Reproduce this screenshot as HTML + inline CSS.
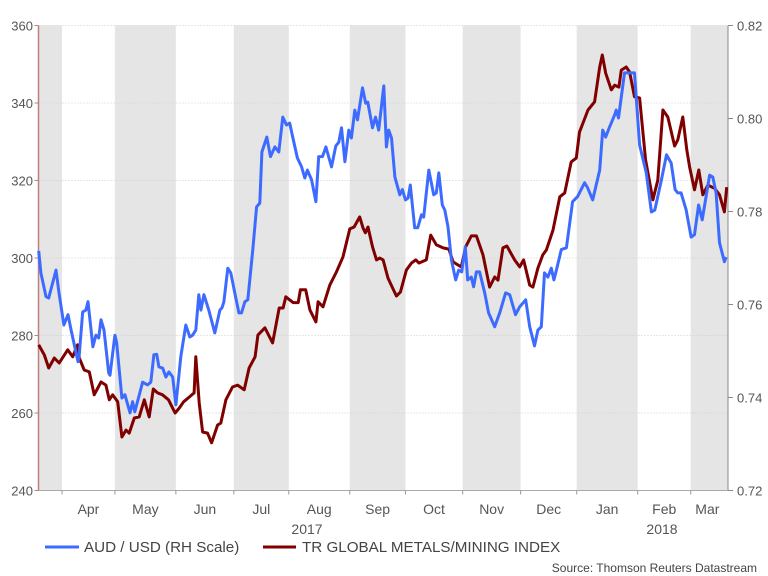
<!DOCTYPE html>
<html><head><meta charset="utf-8"><style>
body{margin:0;background:#fff;}
svg{display:block;font-family:"Liberation Sans",sans-serif;}
</style></head><body>
<svg id="chart" width="768" height="576" viewBox="0 0 768 576" xmlns="http://www.w3.org/2000/svg"></svg>
<script>
// ---- data ----
const monthStartDays = [12.5, 40.6, 73.0, 103.8, 133.0, 165.4, 195.0, 225.4, 256.2, 286.0, 318.4, 346.6];
const monthLabels = ["Apr","May","Jun","Jul","Aug","Sep","Oct","Nov","Dec","Jan","Feb","Mar"];
const leftTicks = [240,260,280,300,320,340,360];
const rightTicks = [0.72,0.74,0.76,0.78,0.80,0.82];
const audDays = [0.1,1.3,4.0,5.4,9.3,10.9,13.5,15.7,17.3,21.0,21.5,23.5,25.2,26.3,28.9,30.5,32.0,33.2,34.8,37.3,38.0,40.6,41.5,44.3,45.9,48.6,50.0,51.2,55.3,58.0,59.7,61.3,62.8,64.0,66.0,67.7,69.3,71.3,73.0,75.6,78.3,80.4,81.9,83.6,85.2,86.3,87.9,90.5,93.7,96.4,97.5,98.5,100.6,102.2,104.3,106.5,107.9,109.7,111.2,113.9,115.9,117.6,118.7,121.3,123.3,125.6,127.7,129.8,131.8,133.5,135.1,137.6,139.8,141.5,142.9,145.1,147.4,148.9,150.9,152.7,155.7,158.0,159.6,161.0,162.8,164.9,166.3,168.1,169.5,172.2,173.9,175.0,177.5,179.1,180.8,183.5,184.9,186.1,187.6,189.4,192.0,193.4,195.0,196.4,197.6,199.9,201.5,203.5,204.7,207.4,210.0,211.4,212.7,214.6,215.9,217.6,219.4,221.7,223.3,224.9,226.8,228.1,230.0,231.2,232.7,234.4,237.1,239.2,242.4,245.1,248.2,250.4,253.5,255.7,258.9,261.0,263.6,265.4,267.2,268.9,270.7,272.5,273.9,275.2,277.8,280.5,283.8,286.5,290.2,291.8,294.5,298.2,299.8,301.4,303.5,306.2,307.0,308.2,311.4,316.7,319.4,323.0,325.7,327.5,331.0,333.7,336.2,338.3,339.7,341.5,344.2,346.8,348.6,350.8,352.7,356.6,358.3,360.1,361.9,364.5,365.4];
const audValues = [0.7715,0.7668,0.7617,0.7614,0.7674,0.7625,0.7556,0.7578,0.7545,0.7477,0.7485,0.7584,0.7588,0.7606,0.7509,0.7534,0.7528,0.7567,0.7545,0.7453,0.7448,0.7534,0.7519,0.7399,0.7406,0.7367,0.7391,0.7369,0.7433,0.7427,0.7433,0.7492,0.7493,0.7466,0.7463,0.7444,0.7455,0.7444,0.7384,0.7488,0.7556,0.7530,0.7534,0.7545,0.7621,0.7588,0.7621,0.7588,0.7539,0.7588,0.7593,0.7606,0.7678,0.7668,0.7625,0.7582,0.7582,0.7606,0.7610,0.7718,0.7810,0.7818,0.7928,0.7960,0.7918,0.7939,0.7928,0.8003,0.7986,0.7990,0.7960,0.7915,0.7896,0.7872,0.7889,0.7868,0.7821,0.7918,0.7918,0.7939,0.7896,0.7941,0.7949,0.7980,0.7907,0.7975,0.7958,0.8018,0.7997,0.8066,0.8033,0.8035,0.7980,0.8003,0.7975,0.8070,0.7939,0.7975,0.7958,0.7874,0.7836,0.7847,0.7825,0.7829,0.7857,0.7765,0.7765,0.7793,0.7788,0.7889,0.7836,0.7840,0.7883,0.7814,0.7803,0.7767,0.7696,0.7653,0.7674,0.7670,0.7724,0.7653,0.7659,0.7638,0.7670,0.7670,0.7625,0.7582,0.7552,0.7582,0.7625,0.7621,0.7578,0.7595,0.7610,0.7552,0.7511,0.7545,0.7552,0.7668,0.7659,0.7678,0.7653,0.7674,0.7718,0.7722,0.7821,0.7832,0.7862,0.7851,0.7825,0.7889,0.7975,0.7960,0.7982,0.8008,0.8018,0.8001,0.8098,0.8098,0.7943,0.7883,0.7799,0.7803,0.7868,0.7922,0.7904,0.7847,0.7840,0.7840,0.7803,0.7745,0.7750,0.7814,0.7782,0.7878,0.7874,0.7840,0.7733,0.7692,0.7702];
const metalDays = [0.1,3.1,5.4,8.4,11.0,15.5,18.2,20.8,21.7,24.3,27.0,29.6,33.2,35.8,37.6,39.4,42.1,44.3,46.5,48.2,50.9,53.5,56.2,58.8,61.0,63.3,65.9,69.1,72.6,74.8,77.1,80.1,82.7,83.6,85.4,87.2,89.8,92.0,95.2,96.9,99.6,103.1,105.8,109.3,111.9,115.1,116.6,120.3,124.4,127.9,130.0,131.4,135.3,138.0,139.2,142.0,144.2,147.4,148.6,151.2,154.8,158.3,161.8,165.4,167.7,170.7,172.5,173.7,175.1,177.5,179.6,181.3,183.1,185.7,188.1,190.2,192.3,195.5,198.2,200.5,202.2,206.1,208.4,211.4,215.0,218.1,220.3,222.9,224.7,227.0,230.0,232.7,236.2,239.7,242.4,244.2,246.8,248.9,253.0,255.7,257.8,261.0,262.7,265.4,268.0,269.9,273.4,277.0,279.6,283.1,285.8,287.5,292.0,295.5,298.2,299.6,301.4,304.4,306.2,308.4,309.7,312.3,314.1,316.7,319.4,322.6,326.5,329.1,331.8,334.4,338.0,339.7,342.4,344.5,346.0,348.6,350.9,353.0,355.7,359.2,361.9,364.5,365.7];
const metalValues = [277.6,275.0,271.6,274.2,272.9,276.3,274.5,277.6,274.2,271.1,270.6,264.7,268.0,267.2,263.4,264.7,262.9,253.8,255.6,254.8,258.7,259.0,263.4,259.0,266.2,265.2,264.7,263.4,260.0,261.3,262.9,264.1,265.2,274.5,262.6,255.1,254.8,252.3,256.9,257.4,263.4,266.7,267.2,266.0,271.6,274.5,280.1,282.0,278.1,287.1,287.1,290.0,288.5,288.5,291.8,291.8,286.6,283.5,288.7,287.4,293.0,296.4,300.3,307.5,308.0,310.6,307.7,306.5,308.0,302.9,299.5,300.0,299.5,294.8,292.3,290.2,291.2,296.9,298.7,299.5,298.7,299.5,305.9,303.4,302.6,302.3,299.0,298.2,297.7,302.9,305.7,305.7,300.8,292.5,295.1,294.3,302.6,303.1,299.5,297.7,299.5,293.0,292.5,297.4,300.8,302.1,307.2,315.8,316.8,324.8,325.8,332.5,338.2,340.3,349.3,352.4,347.7,343.4,344.6,344.1,348.5,349.3,348.0,341.6,341.3,325.3,315.0,320.1,338.2,336.4,328.9,330.5,336.4,327.9,323.5,317.6,322.7,316.3,318.8,318.0,316.3,311.9,318.3];

// ---- layout ----
const X0=38.5, X1=728, Y0=25.5, Y1=490.5, DAYMAX=366.4;
const xs = d => X0 + d*(X1-X0)/DAYMAX;
const yL = v => Y1 - (v-240)/(360-240)*(Y1-Y0);
const yR = v => Y1 - (v-0.72)/(0.82-0.72)*(Y1-Y0);
const NS="http://www.w3.org/2000/svg";
const svg=document.getElementById('chart');
function mk(tag, attrs, parent){const e=document.createElementNS(NS,tag);for(const k in attrs)e.setAttribute(k,attrs[k]);(parent||svg).appendChild(e);return e;}

const bands=[0].concat(monthStartDays).concat([DAYMAX]);
for(let i=0;i<bands.length-1;i++){
  if(i%2===0){
    const r=mk('rect',{x:xs(bands[i]),y:Y0,width:xs(bands[i+1])-xs(bands[i]),height:Y1-Y0,fill:'#e5e5e5'});
    
    
  }
}
leftTicks.forEach(t=>{
  const g=mk('line',{x1:X0,x2:X1,y1:yL(t),y2:yL(t),stroke:'#cfcfcf','stroke-width':1,'stroke-dasharray':'1,2'});
  
  
});
const la=mk('line',{x1:X0,x2:X0,y1:Y0,y2:Y1,stroke:'#c07f7f','stroke-width':1.5});


const ra=mk('line',{x1:X1,x2:X1,y1:Y0,y2:Y1,stroke:'#888','stroke-width':1});


const ba=mk('line',{x1:X0,x2:X1,y1:Y1,y2:Y1,stroke:'#aaa','stroke-width':1});


leftTicks.forEach(t=>{
  mk('line',{x1:X0-4,x2:X0,y1:yL(t),y2:yL(t),stroke:'#c07f7f','stroke-width':1});
  const tx=mk('text',{x:33,y:yL(t)+5,'text-anchor':'end','font-size':13,fill:'#555'});
  tx.textContent=t;
  
  
});
rightTicks.forEach(t=>{
  mk('line',{x1:X1,x2:X1+5,y1:yR(t),y2:yR(t),stroke:'#888','stroke-width':1});
  const tx=mk('text',{x:737,y:yR(t)+5,'font-size':13,fill:'#555'});
  tx.textContent=t.toFixed(2);
  
  
});
monthStartDays.forEach((d,i)=>{
  mk('line',{x1:xs(d),x2:xs(d),y1:Y1,y2:Y1+4,stroke:'#999','stroke-width':1});
  const end=i+1<monthStartDays.length?monthStartDays[i+1]:DAYMAX;
  const tx=mk('text',{x:(xs(d)+xs(end))/2+(i===11?-2:0),y:514,'text-anchor':'middle','font-size':14,fill:'#555'});
  tx.textContent=monthLabels[i];
  
  
});
const y17=mk('text',{x:307,y:534,'text-anchor':'middle','font-size':14,fill:'#555'});y17.textContent='2017';


const y18=mk('text',{x:662,y:534,'text-anchor':'middle','font-size':14,fill:'#555'});y18.textContent='2018';



function path(days,vals,scale){return days.map((d,i)=>(i?'L':'M')+xs(d).toFixed(1)+','+scale(vals[i]).toFixed(1)).join('');}
const pm=mk('path',{d:path(metalDays,metalValues,yL),fill:'none',stroke:'#800000','stroke-width':3,'stroke-linejoin':'round'});


const pa=mk('path',{d:path(audDays,audValues,yR),fill:'none',stroke:'#3d6bff','stroke-width':3,'stroke-linejoin':'round'});


</script>
<svg style="position:absolute;left:0;top:0" width="768" height="576">
  <g>
    <line x1="45" y1="547" x2="79" y2="547" stroke="#3d6bff" stroke-width="3"/>
    <text x="84" y="552" font-family="Liberation Sans, sans-serif" font-size="15.2" fill="#444">AUD / USD (RH Scale)</text>
  </g>
  <g>
    <line x1="263" y1="547" x2="296" y2="547" stroke="#800000" stroke-width="3"/>
    <text x="302" y="552" font-family="Liberation Sans, sans-serif" font-size="15.2" fill="#444">TR GLOBAL METALS/MINING INDEX</text>
  </g>
  <text x="757" y="572" text-anchor="end" font-family="Liberation Sans, sans-serif" font-size="12" fill="#444">Source: Thomson Reuters Datastream</text>
</svg>
</body></html>
